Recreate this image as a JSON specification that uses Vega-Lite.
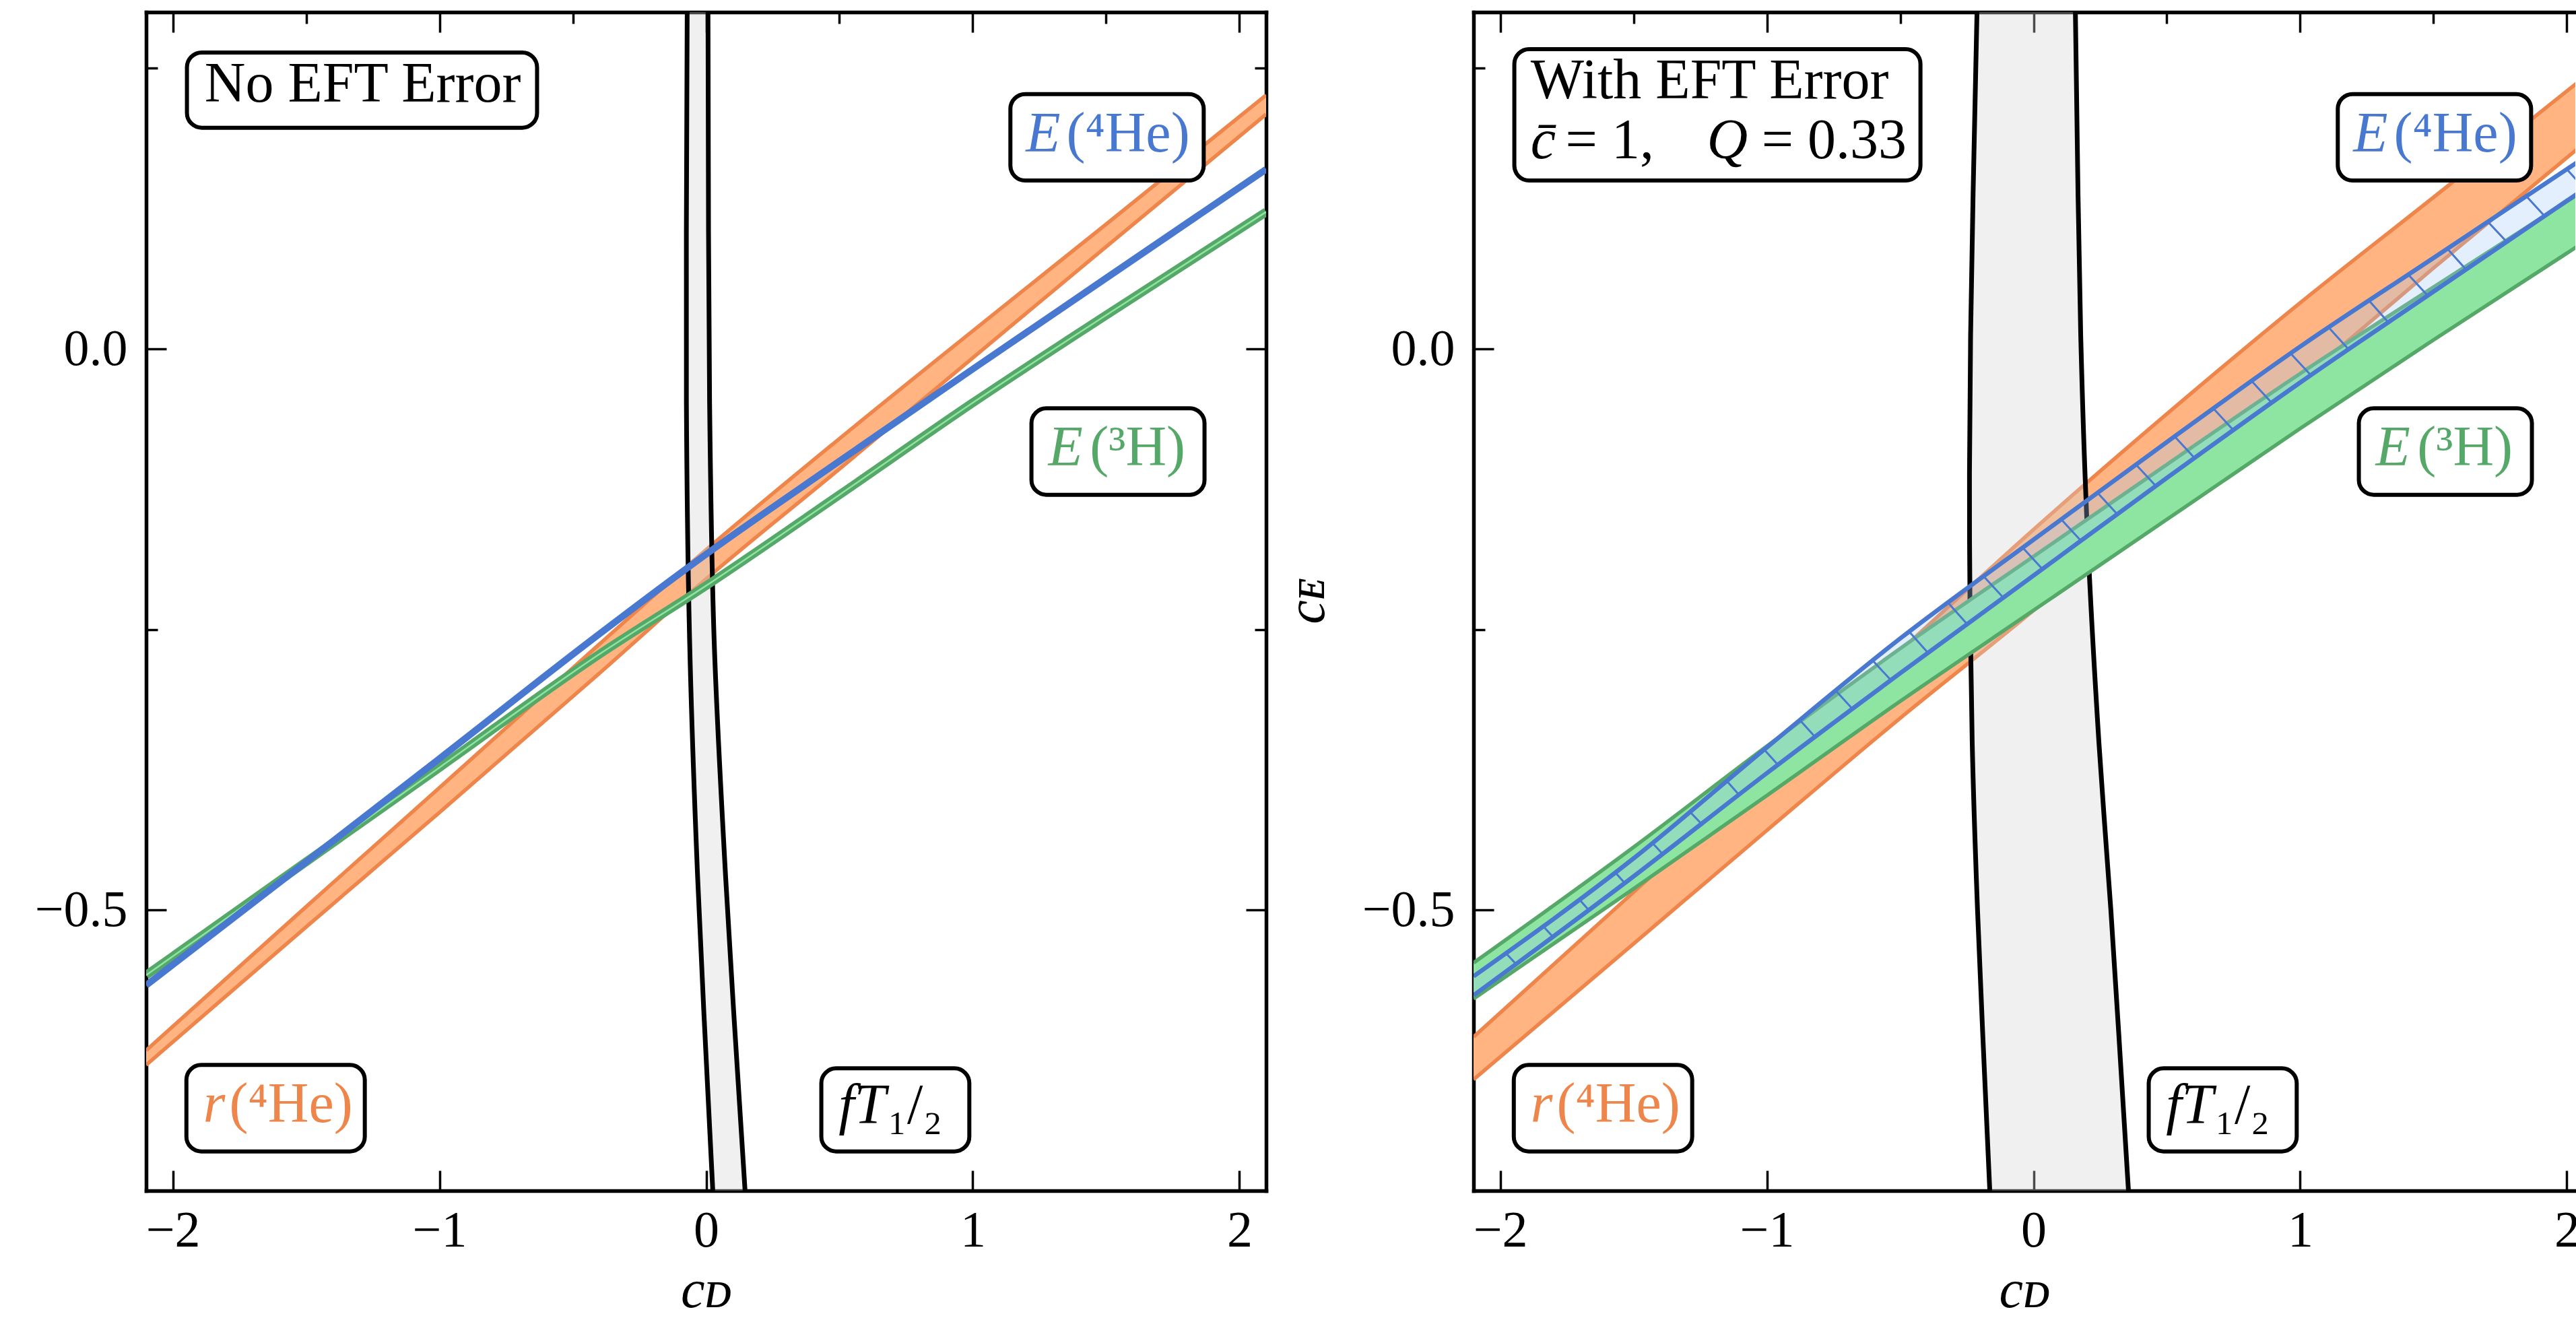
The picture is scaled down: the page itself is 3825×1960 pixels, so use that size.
{
  "$schema": "https://vega.github.io/schema/vega-lite/v6.json",
  "background": "white",
  "padding": {"left": 51, "top": 16, "right": 0, "bottom": 0},
  "spacing": 308,
  "bounds": "flush",
  "config": {
    "view": {"stroke": null},
    "axis": {
      "domainColor": "black", "domainWidth": 5.5, "domainCap": "square",
      "tickColor": "black", "tickWidth": 3.5,
      "labelFont": "Liberation Serif", "labelFontSize": 76, "labelColor": "black",
      "titleFont": "Liberation Serif", "titleFontSize": 80, "titleFontWeight": "normal", "titleColor": "black",
      "grid": false, "labelFlush": false, "labelOverlap": false, "zindex": 2
    }
  },
  "datasets": {
    "orL": [
      {"x": -2.1, "hi": -0.625, "lo": -0.638}, {"x": -1.5, "hi": -0.497, "lo": -0.515},
      {"x": -1.0, "hi": -0.391, "lo": -0.413}, {"x": -0.4, "hi": -0.263, "lo": -0.289},
      {"x": 0.0, "hi": -0.179, "lo": -0.205}, {"x": 0.5, "hi": -0.080, "lo": -0.107},
      {"x": 1.0, "hi": 0.016, "lo": -0.008}, {"x": 1.5, "hi": 0.111, "lo": 0.091},
      {"x": 2.1, "hi": 0.226, "lo": 0.209}
    ],
    "blL": [
      {"x": -2.1, "y": -0.567}, {"x": -1.5, "y": -0.457}, {"x": -1.0, "y": -0.365},
      {"x": -0.4, "y": -0.254}, {"x": 0.0, "y": -0.183}, {"x": 0.5, "y": -0.100},
      {"x": 1.0, "y": -0.018}, {"x": 1.5, "y": 0.063}, {"x": 2.1, "y": 0.160}
    ],
    "grL": [
      {"x": -2.1, "y": -0.558}, {"x": -1.5, "y": -0.457}, {"x": -1.0, "y": -0.373},
      {"x": -0.4, "y": -0.272}, {"x": 0.0, "y": -0.211}, {"x": 0.5, "y": -0.130},
      {"x": 1.0, "y": -0.048}, {"x": 1.5, "y": 0.030}, {"x": 2.1, "y": 0.122}
    ],
    "fTL": [
      {"y": 0.3, "xl": -0.071, "xr": 0.007}, {"y": -0.048, "xl": -0.074, "xr": 0.013},
      {"y": -0.259, "xl": -0.062, "xr": 0.030}, {"y": -0.47, "xl": -0.032, "xr": 0.073},
      {"y": -0.75, "xl": 0.025, "xr": 0.146}
    ],
    "orR": [
      {"x": -2.1, "hi": -0.613, "lo": -0.651}, {"x": -1.5, "hi": -0.484, "lo": -0.530},
      {"x": -1.0, "hi": -0.376, "lo": -0.429}, {"x": -0.5, "hi": -0.269, "lo": -0.329},
      {"x": 0.0, "hi": -0.161, "lo": -0.233}, {"x": 0.5, "hi": -0.058, "lo": -0.131},
      {"x": 1.0, "hi": 0.041, "lo": -0.029}, {"x": 1.5, "hi": 0.135, "lo": 0.072},
      {"x": 2.044, "hi": 0.238, "lo": 0.179}
    ],
    "grR": [
      {"x": -2.1, "hi": -0.547, "lo": -0.579}, {"x": -1.5, "hi": -0.444, "lo": -0.481},
      {"x": -1.0, "hi": -0.354, "lo": -0.398}, {"x": -0.5, "hi": -0.267, "lo": -0.314},
      {"x": 0.0, "hi": -0.185, "lo": -0.233}, {"x": 0.5, "hi": -0.103, "lo": -0.152},
      {"x": 1.0, "hi": -0.022, "lo": -0.071}, {"x": 1.5, "hi": 0.055, "lo": 0.008},
      {"x": 2.044, "hi": 0.138, "lo": 0.092}
    ],
    "blR": [
      {"x": -2.1, "hi": -0.559, "lo": -0.576}, {"x": -1.5, "hi": -0.454, "lo": -0.470},
      {"x": -1.0, "hi": -0.355, "lo": -0.378}, {"x": -0.5, "hi": -0.258, "lo": -0.289},
      {"x": 0.0, "hi": -0.170, "lo": -0.202}, {"x": 0.5, "hi": -0.083, "lo": -0.115},
      {"x": 1.0, "hi": 0.002, "lo": -0.030}, {"x": 1.5, "hi": 0.081, "lo": 0.051},
      {"x": 2.044, "hi": 0.167, "lo": 0.139}
    ],
    "fTR": [
      {"y": 0.3, "xl": -0.212, "xr": 0.157}, {"y": 0.012, "xl": -0.236, "xr": 0.177},
      {"y": -0.169, "xl": -0.240, "xr": 0.203}, {"y": -0.35, "xl": -0.230, "xr": 0.245},
      {"y": -0.5, "xl": -0.210, "xr": 0.290}, {"y": -0.75, "xl": -0.164, "xr": 0.356}
    ],
    "hatch": [
      {"x": -1.98, "y": -0.538, "x2": -1.941, "y2": -0.548},
      {"x": -1.84, "y": -0.514, "x2": -1.802, "y2": -0.524},
      {"x": -1.705, "y": -0.490, "x2": -1.668, "y2": -0.500},
      {"x": -1.57, "y": -0.466, "x2": -1.533, "y2": -0.476},
      {"x": -1.43, "y": -0.440, "x2": -1.391, "y2": -0.450},
      {"x": -1.29, "y": -0.412, "x2": -1.246, "y2": -0.423},
      {"x": -1.15, "y": -0.385, "x2": -1.102, "y2": -0.398},
      {"x": -1.01, "y": -0.357, "x2": -0.957, "y2": -0.371},
      {"x": -0.875, "y": -0.331, "x2": -0.818, "y2": -0.346},
      {"x": -0.74, "y": -0.305, "x2": -0.678, "y2": -0.321},
      {"x": -0.602, "y": -0.278, "x2": -0.535, "y2": -0.295},
      {"x": -0.466, "y": -0.252, "x2": -0.395, "y2": -0.271},
      {"x": -0.321, "y": -0.226, "x2": -0.250, "y2": -0.245},
      {"x": -0.186, "y": -0.203, "x2": -0.112, "y2": -0.222},
      {"x": -0.041, "y": -0.177, "x2": 0.033, "y2": -0.196},
      {"x": 0.104, "y": -0.152, "x2": 0.178, "y2": -0.171},
      {"x": 0.239, "y": -0.128, "x2": 0.313, "y2": -0.147},
      {"x": 0.384, "y": -0.103, "x2": 0.458, "y2": -0.122},
      {"x": 0.529, "y": -0.078, "x2": 0.603, "y2": -0.097},
      {"x": 0.674, "y": -0.053, "x2": 0.748, "y2": -0.072},
      {"x": 0.819, "y": -0.029, "x2": 0.893, "y2": -0.048},
      {"x": 0.964, "y": -0.004, "x2": 1.038, "y2": -0.023},
      {"x": 1.107, "y": 0.019, "x2": 1.180, "y2": 0.000},
      {"x": 1.258, "y": 0.043, "x2": 1.329, "y2": 0.024},
      {"x": 1.406, "y": 0.066, "x2": 1.476, "y2": 0.048},
      {"x": 1.553, "y": 0.089, "x2": 1.621, "y2": 0.071},
      {"x": 1.705, "y": 0.113, "x2": 1.772, "y2": 0.096},
      {"x": 1.848, "y": 0.136, "x2": 1.914, "y2": 0.119},
      {"x": 2.0, "y": 0.160, "x2": 2.065, "y2": 0.143}
    ],
    "boxL": [
      {"x0": -1.947, "x1": -0.634, "y0": 0.197, "y1": 0.264},
      {"x0": 1.141, "x1": 1.866, "y0": 0.150, "y1": 0.227},
      {"x0": 1.220, "x1": 1.869, "y0": -0.130, "y1": -0.053},
      {"x0": -1.949, "x1": -1.280, "y0": -0.715, "y1": -0.638},
      {"x0": 0.432, "x1": 0.987, "y0": -0.715, "y1": -0.641}
    ],
    "boxR": [
      {"x0": -1.947, "x1": -0.424, "y0": 0.150, "y1": 0.267},
      {"x0": 1.141, "x1": 1.866, "y0": 0.150, "y1": 0.227},
      {"x0": 1.220, "x1": 1.869, "y0": -0.130, "y1": -0.053},
      {"x0": -1.949, "x1": -1.280, "y0": -0.715, "y1": -0.638},
      {"x0": 0.432, "x1": 0.987, "y0": -0.715, "y1": -0.641}
    ],
    "itL": [
      {"x": 1.199, "y": 0.176, "t": "E", "s": "b"},
      {"x": 1.283, "y": -0.104, "t": "E", "s": "g"},
      {"x": -1.886, "y": -0.689, "t": "r", "s": "o"},
      {"x": 0.497, "y": -0.690, "t": "fT", "s": "k"}
    ],
    "rmL": [
      {"x": -1.881, "y": 0.220, "t": "No EFT Error", "s": "k"},
      {"x": 1.351, "y": 0.176, "t": "(⁴He)", "s": "b"},
      {"x": 1.439, "y": -0.104, "t": "(³H)", "s": "g"},
      {"x": -1.788, "y": -0.689, "t": "(⁴He)", "s": "o"},
      {"x": 0.680, "y": -0.690, "t": "₁/₂", "s": "k"}
    ],
    "itR": [
      {"x": -1.886, "y": 0.170, "t": "c\u0304", "s": "k"},
      {"x": -1.225, "y": 0.170, "t": "Q", "s": "k"},
      {"x": 1.199, "y": 0.176, "t": "E", "s": "b"},
      {"x": 1.283, "y": -0.104, "t": "E", "s": "g"},
      {"x": -1.886, "y": -0.689, "t": "r", "s": "o"},
      {"x": 0.497, "y": -0.690, "t": "fT", "s": "k"}
    ],
    "rmR": [
      {"x": -1.886, "y": 0.2235, "t": "With EFT Error", "s": "k"},
      {"x": -1.755, "y": 0.170, "t": "= 1,", "s": "k"},
      {"x": -1.020, "y": 0.170, "t": "= 0.33", "s": "k"},
      {"x": 1.351, "y": 0.176, "t": "(⁴He)", "s": "b"},
      {"x": 1.439, "y": -0.104, "t": "(³H)", "s": "g"},
      {"x": -1.788, "y": -0.689, "t": "(⁴He)", "s": "o"},
      {"x": 0.680, "y": -0.690, "t": "₁/₂", "s": "k"}
    ]
  },
  "hconcat": [
    {
      "width": 1663,
      "height": 1750,
      "resolve": {"axis": {"x": "independent", "y": "independent"}},
      "layer": [
        {
          "data": {"name": "orL"},
          "mark": {"type": "area", "fill": "#FFB482", "clip": true, "interpolate": "monotone"},
          "encoding": {
            "x": {"field": "x", "type": "quantitative", "scale": {"domain": [-2.1, 2.1], "nice": false, "zero": false},
              "axis": {"orient": "bottom", "values": [-2, -1.5, -1, -0.5, 0, 0.5, 1, 1.5, 2], "format": "d",
                "labelExpr": "datum.value % 1 === 0 ? datum.label : ''",
                "tickSize": {"condition": {"test": "datum.value % 1 === 0", "value": -30}, "value": -17},
                "labelPadding": 52, "title": "cᴅ", "titleFontStyle": "italic", "titlePadding": 12}},
            "y": {"field": "hi", "type": "quantitative", "scale": {"domain": [-0.75, 0.3], "nice": false, "zero": false},
              "axis": {"orient": "left", "values": [-0.75, -0.5, -0.25, 0, 0.25],
                "labelExpr": "datum.value === 0 ? '0.0' : (datum.value === -0.5 ? '−0.5' : '')",
                "tickSize": {"condition": {"test": "datum.value % 0.5 === 0", "value": -30}, "value": -17},
                "labelPadding": 58, "title": null}},
            "y2": {"field": "lo"}
          }
        },
        {
          "data": {"name": "orL"},
          "mark": {"type": "line", "stroke": "#EE854A", "strokeWidth": 5.5, "clip": true, "interpolate": "monotone"},
          "encoding": {
            "x": {"field": "x", "type": "quantitative", "scale": {"domain": [-2.1, 2.1], "nice": false, "zero": false}, "axis": null},
            "y": {"field": "hi", "type": "quantitative", "scale": {"domain": [-0.75, 0.3], "nice": false, "zero": false}, "axis": null}
          }
        },
        {
          "data": {"name": "orL"},
          "mark": {"type": "line", "stroke": "#EE854A", "strokeWidth": 5.5, "clip": true, "interpolate": "monotone"},
          "encoding": {
            "x": {"field": "x", "type": "quantitative", "scale": {"domain": [-2.1, 2.1], "nice": false, "zero": false}, "axis": null},
            "y": {"field": "lo", "type": "quantitative", "scale": {"domain": [-0.75, 0.3], "nice": false, "zero": false}, "axis": null}
          }
        },
        {
          "data": {"name": "fTL"},
          "mark": {"type": "area", "orient": "horizontal", "fill": "#d4d4d4", "fillOpacity": 0.35, "clip": true, "interpolate": "catmull-rom"},
          "encoding": {
            "y": {"field": "y", "type": "quantitative", "scale": {"domain": [-0.75, 0.3], "nice": false, "zero": false}, "axis": null},
            "x": {"field": "xl", "type": "quantitative", "scale": {"domain": [-2.1, 2.1], "nice": false, "zero": false}, "axis": null},
            "x2": {"field": "xr"}
          }
        },
        {
          "data": {"name": "fTL"},
          "mark": {"type": "line", "stroke": "black", "strokeWidth": 7, "clip": true, "interpolate": "catmull-rom"},
          "encoding": {
            "x": {"field": "xl", "type": "quantitative", "scale": {"domain": [-2.1, 2.1], "nice": false, "zero": false}, "axis": null},
            "y": {"field": "y", "type": "quantitative", "scale": {"domain": [-0.75, 0.3], "nice": false, "zero": false}, "axis": null},
            "order": {"field": "y", "type": "quantitative"}
          }
        },
        {
          "data": {"name": "fTL"},
          "mark": {"type": "line", "stroke": "black", "strokeWidth": 7, "clip": true, "interpolate": "catmull-rom"},
          "encoding": {
            "x": {"field": "xr", "type": "quantitative", "scale": {"domain": [-2.1, 2.1], "nice": false, "zero": false}, "axis": null},
            "y": {"field": "y", "type": "quantitative", "scale": {"domain": [-0.75, 0.3], "nice": false, "zero": false}, "axis": null},
            "order": {"field": "y", "type": "quantitative"}
          }
        },
        {
          "data": {"name": "grL"},
          "mark": {"type": "line", "stroke": "#55A868", "strokeWidth": 13, "clip": true, "interpolate": "monotone"},
          "encoding": {
            "x": {"field": "x", "type": "quantitative", "scale": {"domain": [-2.1, 2.1], "nice": false, "zero": false}, "axis": null},
            "y": {"field": "y", "type": "quantitative", "scale": {"domain": [-0.75, 0.3], "nice": false, "zero": false}, "axis": null}
          }
        },
        {
          "data": {"name": "grL"},
          "mark": {"type": "line", "stroke": "#8DE5A1", "strokeWidth": 2.5, "clip": true, "interpolate": "monotone"},
          "encoding": {
            "x": {"field": "x", "type": "quantitative", "scale": {"domain": [-2.1, 2.1], "nice": false, "zero": false}, "axis": null},
            "y": {"field": "y", "type": "quantitative", "scale": {"domain": [-0.75, 0.3], "nice": false, "zero": false}, "axis": null}
          }
        },
        {
          "data": {"name": "blL"},
          "mark": {"type": "line", "stroke": "#4878D0", "strokeWidth": 10, "clip": true, "interpolate": "monotone"},
          "encoding": {
            "x": {"field": "x", "type": "quantitative", "scale": {"domain": [-2.1, 2.1], "nice": false, "zero": false}, "axis": null},
            "y": {"field": "y", "type": "quantitative", "scale": {"domain": [-0.75, 0.3], "nice": false, "zero": false}, "axis": null}
          }
        },
        {
          "data": {"name": "boxL"},
          "mark": {"type": "rect", "fill": "white", "stroke": "black", "strokeWidth": 6, "cornerRadius": 22},
          "encoding": {
            "x": {"field": "x0", "type": "quantitative", "scale": {"domain": [-2.1, 2.1], "nice": false, "zero": false},
              "axis": {"orient": "top", "values": [-2, -1.5, -1, -0.5, 0, 0.5, 1, 1.5, 2], "labels": false, "title": null,
                "tickSize": {"condition": {"test": "datum.value % 1 === 0", "value": -30}, "value": -17}}},
            "x2": {"field": "x1"},
            "y": {"field": "y0", "type": "quantitative", "scale": {"domain": [-0.75, 0.3], "nice": false, "zero": false},
              "axis": {"orient": "right", "values": [-0.75, -0.5, -0.25, 0, 0.25], "labels": false, "title": null,
                "tickSize": {"condition": {"test": "datum.value % 0.5 === 0", "value": -30}, "value": -17}}},
            "y2": {"field": "y1"}
          }
        },
        {
          "data": {"name": "itL"},
          "mark": {"type": "text", "align": "left", "baseline": "alphabetic", "font": "Liberation Serif", "fontSize": 84, "fontStyle": "italic"},
          "encoding": {
            "x": {"field": "x", "type": "quantitative", "scale": {"domain": [-2.1, 2.1], "nice": false, "zero": false}, "axis": null},
            "y": {"field": "y", "type": "quantitative", "scale": {"domain": [-0.75, 0.3], "nice": false, "zero": false}, "axis": null},
            "text": {"field": "t"},
            "color": {"field": "s", "type": "nominal", "scale": {"domain": ["b", "g", "o", "k"], "range": ["#4878D0", "#55A868", "#EE854A", "#000000"]}, "legend": null}
          }
        },
        {
          "data": {"name": "rmL"},
          "mark": {"type": "text", "align": "left", "baseline": "alphabetic", "font": "Liberation Serif", "fontSize": 84},
          "encoding": {
            "x": {"field": "x", "type": "quantitative", "scale": {"domain": [-2.1, 2.1], "nice": false, "zero": false}, "axis": null},
            "y": {"field": "y", "type": "quantitative", "scale": {"domain": [-0.75, 0.3], "nice": false, "zero": false}, "axis": null},
            "text": {"field": "t"},
            "color": {"field": "s", "type": "nominal", "scale": {"domain": ["b", "g", "o", "k"], "range": ["#4878D0", "#55A868", "#EE854A", "#000000"]}, "legend": null}
          }
        }
      ]
    },
    {
      "width": 1636,
      "height": 1750,
      "resolve": {"axis": {"x": "independent", "y": "independent"}},
      "layer": [
        {
          "data": {"name": "orR"},
          "mark": {"type": "area", "fill": "#FFB482", "clip": true, "interpolate": "monotone"},
          "encoding": {
            "x": {"field": "x", "type": "quantitative", "scale": {"domain": [-2.1, 2.0318], "nice": false, "zero": false},
              "axis": {"orient": "bottom", "values": [-2, -1.5, -1, -0.5, 0, 0.5, 1, 1.5, 2], "format": "d",
                "labelExpr": "datum.value % 1 === 0 ? datum.label : ''",
                "tickSize": {"condition": {"test": "datum.value % 1 === 0", "value": -30}, "value": -17},
                "labelPadding": 52, "title": "cᴅ", "titleFontStyle": "italic", "titlePadding": 12}},
            "y": {"field": "hi", "type": "quantitative", "scale": {"domain": [-0.75, 0.3], "nice": false, "zero": false},
              "axis": {"orient": "left", "values": [-0.75, -0.5, -0.25, 0, 0.25],
                "labelExpr": "datum.value === 0 ? '0.0' : (datum.value === -0.5 ? '−0.5' : '')",
                "tickSize": {"condition": {"test": "datum.value % 0.5 === 0", "value": -30}, "value": -17},
                "labelPadding": 58, "title": "cᴇ", "titleFontStyle": "italic", "titlePadding": 40}},
            "y2": {"field": "lo"}
          }
        },
        {
          "data": {"name": "orR"},
          "mark": {"type": "line", "stroke": "#EE854A", "strokeWidth": 5.5, "clip": true, "interpolate": "monotone"},
          "encoding": {
            "x": {"field": "x", "type": "quantitative", "scale": {"domain": [-2.1, 2.0318], "nice": false, "zero": false}, "axis": null},
            "y": {"field": "hi", "type": "quantitative", "scale": {"domain": [-0.75, 0.3], "nice": false, "zero": false}, "axis": null}
          }
        },
        {
          "data": {"name": "orR"},
          "mark": {"type": "line", "stroke": "#EE854A", "strokeWidth": 5.5, "clip": true, "interpolate": "monotone"},
          "encoding": {
            "x": {"field": "x", "type": "quantitative", "scale": {"domain": [-2.1, 2.0318], "nice": false, "zero": false}, "axis": null},
            "y": {"field": "lo", "type": "quantitative", "scale": {"domain": [-0.75, 0.3], "nice": false, "zero": false}, "axis": null}
          }
        },
        {
          "data": {"name": "fTR"},
          "mark": {"type": "area", "orient": "horizontal", "fill": "#d4d4d4", "fillOpacity": 0.35, "clip": true, "interpolate": "catmull-rom"},
          "encoding": {
            "y": {"field": "y", "type": "quantitative", "scale": {"domain": [-0.75, 0.3], "nice": false, "zero": false}, "axis": null},
            "x": {"field": "xl", "type": "quantitative", "scale": {"domain": [-2.1, 2.0318], "nice": false, "zero": false}, "axis": null},
            "x2": {"field": "xr"}
          }
        },
        {
          "data": {"name": "fTR"},
          "mark": {"type": "line", "stroke": "black", "strokeWidth": 7, "clip": true, "interpolate": "catmull-rom"},
          "encoding": {
            "x": {"field": "xl", "type": "quantitative", "scale": {"domain": [-2.1, 2.0318], "nice": false, "zero": false}, "axis": null},
            "y": {"field": "y", "type": "quantitative", "scale": {"domain": [-0.75, 0.3], "nice": false, "zero": false}, "axis": null},
            "order": {"field": "y", "type": "quantitative"}
          }
        },
        {
          "data": {"name": "fTR"},
          "mark": {"type": "line", "stroke": "black", "strokeWidth": 7, "clip": true, "interpolate": "catmull-rom"},
          "encoding": {
            "x": {"field": "xr", "type": "quantitative", "scale": {"domain": [-2.1, 2.0318], "nice": false, "zero": false}, "axis": null},
            "y": {"field": "y", "type": "quantitative", "scale": {"domain": [-0.75, 0.3], "nice": false, "zero": false}, "axis": null},
            "order": {"field": "y", "type": "quantitative"}
          }
        },
        {
          "data": {"name": "grR"},
          "mark": {"type": "area", "fill": "#8DE5A1", "clip": true, "interpolate": "monotone"},
          "encoding": {
            "x": {"field": "x", "type": "quantitative", "scale": {"domain": [-2.1, 2.0318], "nice": false, "zero": false}, "axis": null},
            "y": {"field": "hi", "type": "quantitative", "scale": {"domain": [-0.75, 0.3], "nice": false, "zero": false}, "axis": null},
            "y2": {"field": "lo"}
          }
        },
        {
          "data": {"name": "grR"},
          "mark": {"type": "line", "stroke": "#55A868", "strokeWidth": 5.5, "clip": true, "interpolate": "monotone"},
          "encoding": {
            "x": {"field": "x", "type": "quantitative", "scale": {"domain": [-2.1, 2.0318], "nice": false, "zero": false}, "axis": null},
            "y": {"field": "hi", "type": "quantitative", "scale": {"domain": [-0.75, 0.3], "nice": false, "zero": false}, "axis": null}
          }
        },
        {
          "data": {"name": "grR"},
          "mark": {"type": "line", "stroke": "#55A868", "strokeWidth": 5.5, "clip": true, "interpolate": "monotone"},
          "encoding": {
            "x": {"field": "x", "type": "quantitative", "scale": {"domain": [-2.1, 2.0318], "nice": false, "zero": false}, "axis": null},
            "y": {"field": "lo", "type": "quantitative", "scale": {"domain": [-0.75, 0.3], "nice": false, "zero": false}, "axis": null}
          }
        },
        {
          "data": {"name": "blR"},
          "mark": {"type": "area", "fill": "#A1C9F4", "fillOpacity": 0.3, "clip": true, "interpolate": "monotone"},
          "encoding": {
            "x": {"field": "x", "type": "quantitative", "scale": {"domain": [-2.1, 2.0318], "nice": false, "zero": false}, "axis": null},
            "y": {"field": "hi", "type": "quantitative", "scale": {"domain": [-0.75, 0.3], "nice": false, "zero": false}, "axis": null},
            "y2": {"field": "lo"}
          }
        },
        {
          "data": {"name": "hatch"},
          "mark": {"type": "rule", "stroke": "#4878D0", "strokeWidth": 3, "clip": true},
          "encoding": {
            "x": {"field": "x", "type": "quantitative", "scale": {"domain": [-2.1, 2.0318], "nice": false, "zero": false}, "axis": null},
            "y": {"field": "y", "type": "quantitative", "scale": {"domain": [-0.75, 0.3], "nice": false, "zero": false}, "axis": null},
            "x2": {"field": "x2"},
            "y2": {"field": "y2"}
          }
        },
        {
          "data": {"name": "blR"},
          "mark": {"type": "line", "stroke": "#4878D0", "strokeWidth": 6.5, "clip": true, "interpolate": "monotone"},
          "encoding": {
            "x": {"field": "x", "type": "quantitative", "scale": {"domain": [-2.1, 2.0318], "nice": false, "zero": false}, "axis": null},
            "y": {"field": "hi", "type": "quantitative", "scale": {"domain": [-0.75, 0.3], "nice": false, "zero": false}, "axis": null}
          }
        },
        {
          "data": {"name": "blR"},
          "mark": {"type": "line", "stroke": "#4878D0", "strokeWidth": 6.5, "clip": true, "interpolate": "monotone"},
          "encoding": {
            "x": {"field": "x", "type": "quantitative", "scale": {"domain": [-2.1, 2.0318], "nice": false, "zero": false}, "axis": null},
            "y": {"field": "lo", "type": "quantitative", "scale": {"domain": [-0.75, 0.3], "nice": false, "zero": false}, "axis": null}
          }
        },
        {
          "data": {"name": "boxR"},
          "mark": {"type": "rect", "fill": "white", "stroke": "black", "strokeWidth": 6, "cornerRadius": 22},
          "encoding": {
            "x": {"field": "x0", "type": "quantitative", "scale": {"domain": [-2.1, 2.0318], "nice": false, "zero": false},
              "axis": {"orient": "top", "values": [-2, -1.5, -1, -0.5, 0, 0.5, 1, 1.5, 2], "labels": false, "title": null,
                "tickSize": {"condition": {"test": "datum.value % 1 === 0", "value": -30}, "value": -17}}},
            "x2": {"field": "x1"},
            "y": {"field": "y0", "type": "quantitative", "scale": {"domain": [-0.75, 0.3], "nice": false, "zero": false}, "axis": null},
            "y2": {"field": "y1"}
          }
        },
        {
          "data": {"name": "itR"},
          "mark": {"type": "text", "align": "left", "baseline": "alphabetic", "font": "Liberation Serif", "fontSize": 84, "fontStyle": "italic"},
          "encoding": {
            "x": {"field": "x", "type": "quantitative", "scale": {"domain": [-2.1, 2.0318], "nice": false, "zero": false}, "axis": null},
            "y": {"field": "y", "type": "quantitative", "scale": {"domain": [-0.75, 0.3], "nice": false, "zero": false}, "axis": null},
            "text": {"field": "t"},
            "color": {"field": "s", "type": "nominal", "scale": {"domain": ["b", "g", "o", "k"], "range": ["#4878D0", "#55A868", "#EE854A", "#000000"]}, "legend": null}
          }
        },
        {
          "data": {"name": "rmR"},
          "mark": {"type": "text", "align": "left", "baseline": "alphabetic", "font": "Liberation Serif", "fontSize": 84},
          "encoding": {
            "x": {"field": "x", "type": "quantitative", "scale": {"domain": [-2.1, 2.0318], "nice": false, "zero": false}, "axis": null},
            "y": {"field": "y", "type": "quantitative", "scale": {"domain": [-0.75, 0.3], "nice": false, "zero": false}, "axis": null},
            "text": {"field": "t"},
            "color": {"field": "s", "type": "nominal", "scale": {"domain": ["b", "g", "o", "k"], "range": ["#4878D0", "#55A868", "#EE854A", "#000000"]}, "legend": null}
          }
        }
      ]
    }
  ]
}
